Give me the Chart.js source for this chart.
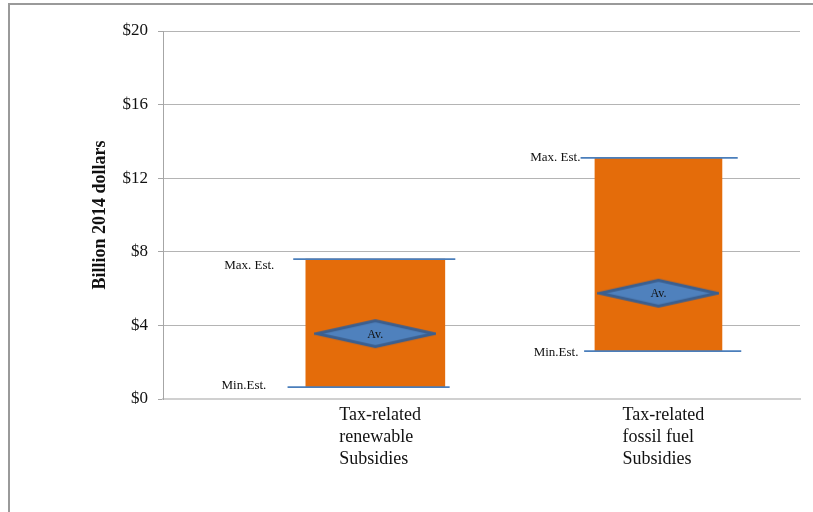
<!DOCTYPE html>
<html>
<head>
<meta charset="utf-8">
<script src="https://cdn.jsdelivr.net/npm/chart.js@4/dist/chart.umd.min.js"></script>
<style>
  html, body { margin: 0; padding: 0; background: #fff; overflow: hidden; }
  #wrap { position: relative; width: 813px; height: 512px; }
  #frame {
    position: absolute; left: 8px; top: 3px; width: 900px; height: 600px;
    border-left: 2px solid #9a9a9a; border-top: 2px solid #9a9a9a;
    pointer-events: none;
  }
  canvas { position: absolute; left: 0; top: 0; }
</style>
</head>
<body>
<div id="wrap">
  <canvas id="chart" width="813" height="512"></canvas>
  <div id="frame"></div>
</div>
<script>
// Subsidy estimates, billion 2014 dollars
const categories = [
  ['Tax-related', 'renewable', 'Subsidies'],
  ['Tax-related', 'fossil fuel', 'Subsidies']
];
const minEst  = [0.65, 2.6];
const maxEst  = [7.6, 13.1];
const average = [3.55, 5.75];
const yTickLabels = ['$0', '$4', '$8', '$12', '$16', '$20'];
const maxLabel = 'Max. Est.';
const minLabel = 'Min.Est.';
const avgLabel = 'Av.';

// Layout of the two columns on a 0..9 horizontal scale
const categoryX = [3, 7];
const barWidths = [139, 127];
// horizontal reach of the estimate rules, in scale units from the column centre
const maxSpan = [[-1.16, 1.13], [-1.10, 1.12]];
const minSpan = [[-1.24, 1.05], [-1.05, 1.17]];
// label anchors relative to the column centre (px) and to the rule (px)
const maxLabelOffset = [[-101, 6], [-78, 0]];
const minLabelOffset = [[-109, -1], [-80, 1]];

const SERIF = "'Liberation Serif', 'Times New Roman', serif";
const ORANGE = '#e46c0a';
const RULE = '#4a7ebb';

// Flattened diamond marker for the average
function makeDiamond(w, h) {
  const c = document.createElement('canvas');
  c.width = w; c.height = h;
  const g = c.getContext('2d');
  const p = 2.5;
  g.beginPath();
  g.moveTo(p, h / 2);
  g.lineTo(w / 2, p);
  g.lineTo(w - p, h / 2);
  g.lineTo(w / 2, h - p);
  g.closePath();
  g.fillStyle = '#4f81bd';
  g.fill();
  g.lineWidth = 3;
  g.lineJoin = 'miter';
  g.strokeStyle = '#3b5f8f';
  g.stroke();
  return c;
}
const diamond = makeDiamond(122, 31);

const datasets = [];
categories.forEach((c, i) => {
  datasets.push({
    type: 'bar',
    data: [{ x: categoryX[i], y: [minEst[i], maxEst[i]] }],
    backgroundColor: ORANGE,
    borderWidth: 0,
    barThickness: barWidths[i],
    grouped: false,
    order: 3
  });
});
categories.forEach((c, i) => {
  datasets.push({
    type: 'line',
    data: [
      { x: categoryX[i] + maxSpan[i][0], y: maxEst[i] },
      { x: categoryX[i] + maxSpan[i][1], y: maxEst[i] }
    ],
    borderColor: RULE, borderWidth: 1.75, pointRadius: 0, fill: false, order: 2
  });
  datasets.push({
    type: 'line',
    data: [
      { x: categoryX[i] + minSpan[i][0], y: minEst[i] },
      { x: categoryX[i] + minSpan[i][1], y: minEst[i] }
    ],
    borderColor: RULE, borderWidth: 1.75, pointRadius: 0, fill: false, order: 2
  });
});
datasets.push({
  type: 'line',
  showLine: false,
  data: categoryX.map((x, i) => ({ x: x, y: average[i] })),
  pointStyle: diamond,
  pointRadius: 10,
  order: 1
});

// Text annotations: "Av." on the diamonds and the Max./Min. estimate labels
const annotations = {
  id: 'annotations',
  afterDatasetsDraw(chart) {
    const ctx = chart.ctx;
    const xs = chart.scales.x, ys = chart.scales.y;
    ctx.save();
    ctx.fillStyle = '#111';
    ctx.textBaseline = 'middle';
    ctx.font = '12px ' + SERIF;
    ctx.textAlign = 'center';
    categoryX.forEach((x, i) => {
      ctx.fillText(avgLabel, xs.getPixelForValue(x), ys.getPixelForValue(average[i]) + 1);
    });
    ctx.font = '13px ' + SERIF;
    ctx.textAlign = 'right';
    categoryX.forEach((x, i) => {
      const cx = xs.getPixelForValue(x);
      ctx.fillText(maxLabel, cx + maxLabelOffset[i][0], ys.getPixelForValue(maxEst[i]) + maxLabelOffset[i][1]);
      ctx.fillText(minLabel, cx + minLabelOffset[i][0], ys.getPixelForValue(minEst[i]) + minLabelOffset[i][1]);
    });
    ctx.restore();
  }
};

new Chart(document.getElementById('chart'), {
  type: 'bar',
  data: { datasets: datasets },
  options: {
    responsive: false,
    animation: false,
    events: [],
    layout: { padding: { left: 0, top: 31, right: 13, bottom: 0 } },
    plugins: { legend: { display: false }, tooltip: { enabled: false } },
    scales: {
      x: {
        type: 'linear',
        min: 0, max: 9,
        offset: false,
        grid: { display: false, drawTicks: false, offset: false },
        border: { display: true, color: '#d0d0d0', width: 2 },
        afterBuildTicks: (s) => { s.ticks = categoryX.map(v => ({ value: v })); },
        afterFit: (s) => { s.height = 113; },
        ticks: {
          autoSkip: false,
          maxRotation: 0,
          align: 'start',
          labelOffset: -36,
          padding: 5,
          color: '#111',
          font: { family: SERIF, size: 18, lineHeight: 1.22 },
          callback: (v, i) => categories[i]
        }
      },
      y: {
        min: 0, max: 20,
        afterBuildTicks: (s) => { s.ticks = yTickLabels.map((t, i) => ({ value: i * 4 })); },
        afterFit: (s) => { s.width = 163; },
        grid: {
          color: (c) => (c.tick && c.tick.value === 0) ? 'rgba(0,0,0,0)' : '#b4b4b4',
          lineWidth: 1,
          tickLength: 5,
          tickColor: '#a6a6a6'
        },
        border: { display: true, color: '#a6a6a6', width: 1 },
        ticks: {
          padding: 10,
          color: '#111',
          font: { family: SERIF, size: 17 },
          callback: (v, i) => yTickLabels[i]
        },
        title: {
          display: true,
          text: 'Billion 2014 dollars',
          color: '#111',
          font: { family: SERIF, size: 18, weight: 'bold' },
          padding: { top: 90, bottom: 0 }
        }
      }
    }
  },
  plugins: [annotations]
});
</script>
</body>
</html>
